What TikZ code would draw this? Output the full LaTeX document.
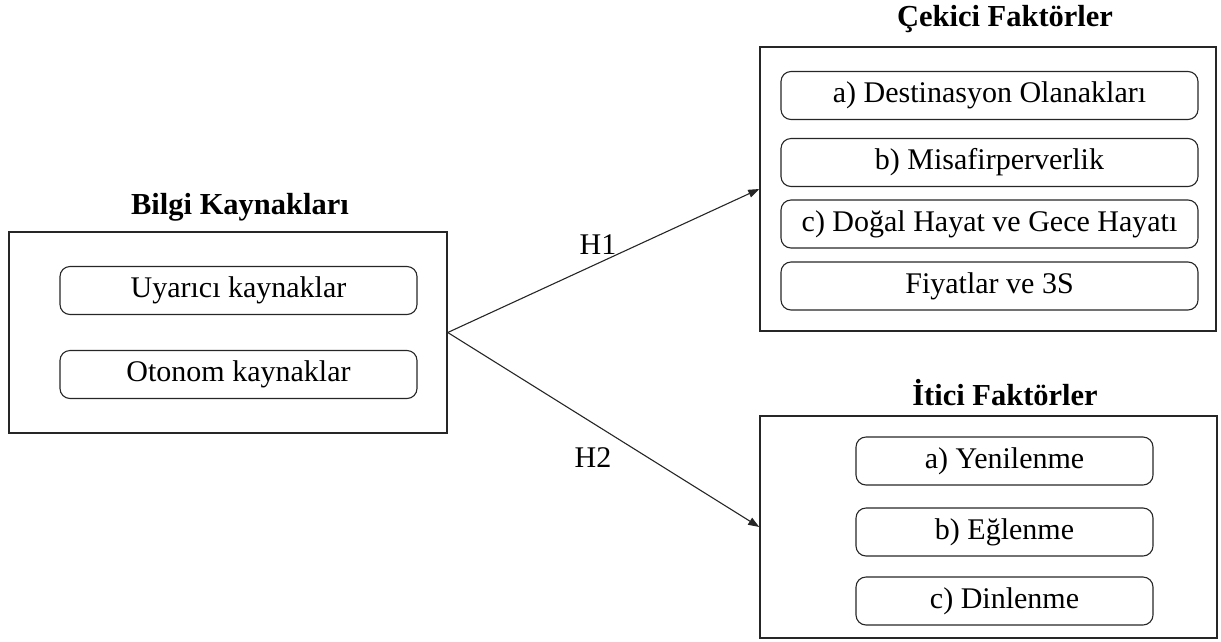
\documentclass[tikz,border=0pt]{standalone}
\usepackage{fontspec}
\setmainfont{Liberation Serif}
\usetikzlibrary{arrows.meta}

\begin{document}
\begin{tikzpicture}[x=1pt,y=-1pt,
  every node/.style={font=\fontsize{30}{34}\selectfont},
  group/.style={draw=black!85,line width=1.5pt,minimum width=#1},
  item/.style={draw=black!85,line width=1.1pt,rounded corners=10pt,minimum height=48,minimum width=#1,inner sep=0pt},
  title/.style={font=\fontsize{30.5}{34}\selectfont\bfseries},
  link/.style={draw=black!85,line width=1.1pt,-{Triangle[length=11pt,width=8pt]}}]
  \useasboundingbox (0,0) rectangle (1221,641);

  % left block
  \node (src) [group=438,minimum height=201] at (228,332.5) {};
  \node (srct) [title] at (240,207) {Bilgi Kaynakları};
  \node (src1) [item=357] at (238.5,290.5) {Uyarıcı kaynaklar};
  \node (src2) [item=357] at (238.5,374.5) {Otonom kaynaklar};

  % pull factors
  \node (pull) [group=456,minimum height=284] at (988,189) {};
  \node (pullt) [title] at (1005,19) {Çekici Faktörler};
  \foreach \y/\t [count=\i] in {95.5/a) Destinasyon Olanakları,162.5/b) Misafirperverlik,224/c) Doğal Hayat ve Gece Hayatı,286/Fiyatlar ve 3S}
    \node (pull\i) [item=417] at (989.5,\y) {\t};

  % push factors
  \node (push) [group=457,minimum height=222] at (988.5,527) {};
  \node (pusht) [title] at (1005,393) {İtici Faktörler};
  \foreach \y/\t [count=\i] in {461/a) Yenilenme,532/b) Eğlenme,601/c) Dinlenme}
    \node (push\i) [item=297] at (1004.5,\y) {\t};

  \draw [link] (src.east) -- (pull.west);
  \draw [link] (src.east) -- (push.west);
  \node (h1) at (598,245) {H1};
  \node (h2) at (593,458) {H2};
\end{tikzpicture}
\end{document}
